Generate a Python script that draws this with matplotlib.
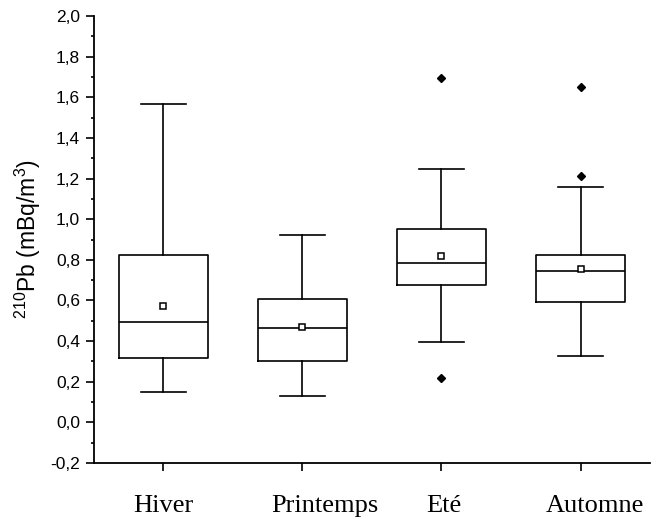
import matplotlib
matplotlib.use("Agg")
import matplotlib.pyplot as plt
import matplotlib.transforms as mtransforms
from matplotlib.ticker import MultipleLocator, FuncFormatter

plt.rcParams['mathtext.fontset'] = 'custom'
plt.rcParams['mathtext.rm'] = 'Liberation Sans'
plt.rcParams['mathtext.it'] = 'Liberation Sans:italic'

# seasons
seasons = ["Hiver", "Printemps", "Eté", "Automne"]

# box statistics (mBq/m3)
whisk_low = [0.148, 0.129, 0.393, 0.326]
q1 = [0.316, 0.304, 0.675, 0.590]
medians = [0.492, 0.464, 0.785, 0.746]
means = [0.575, 0.467, 0.818, 0.756]
q3 = [0.823, 0.608, 0.950, 0.823]
whisk_high = [1.567, 0.922, 1.245, 1.157]
outliers = [[], [], [0.216, 1.693], [1.212, 1.652]]

# label nudges in pixels (labels in the source are not quite centred)
label_shift = [0, 22, 2, 14]

stats = []
for i, name in enumerate(seasons):
    stats.append(dict(label=name, whislo=whisk_low[i], q1=q1[i], med=medians[i],
                      mean=means[i], q3=q3[i], whishi=whisk_high[i],
                      fliers=outliers[i]))

fig = plt.figure(figsize=(6.52, 5.19), dpi=100)
ax = fig.add_axes([0.144, 0.108, 0.853, 0.861])

lw = 1.2
ax.bxp(stats, positions=range(1, len(seasons) + 1), widths=0.64, capwidths=0.32,
       showmeans=True, showfliers=True,
       boxprops=dict(color='black', linewidth=lw),
       whiskerprops=dict(color='black', linewidth=lw),
       capprops=dict(color='black', linewidth=lw),
       medianprops=dict(color='black', linewidth=lw),
       meanprops=dict(marker='s', markersize=4, markerfacecolor='white',
                      markeredgecolor='black', markeredgewidth=1.1),
       flierprops=dict(marker='D', markersize=4.5, markerfacecolor='black',
                       markeredgecolor='black'))

ax.set_xlim(0.5, 4.5)
ax.set_ylim(-0.2, 2.0)

ax.spines['top'].set_visible(False)
ax.spines['right'].set_visible(False)
ax.spines['left'].set_linewidth(1.3)
ax.spines['bottom'].set_linewidth(1.3)

ax.yaxis.set_major_locator(MultipleLocator(0.2))
ax.yaxis.set_minor_locator(MultipleLocator(0.1))
ax.yaxis.set_major_formatter(FuncFormatter(lambda v, p: ("%.1f" % v).replace('.', ',')))
ax.tick_params(axis='y', which='major', direction='out', length=6, width=1.2,
               labelsize=12.5, pad=4)
ax.tick_params(axis='y', which='minor', direction='out', length=2, width=1.2)
ax.tick_params(axis='x', which='major', direction='out', length=6, width=1.2,
               labelsize=19, pad=17)
for lab in ax.get_yticklabels():
    lab.set_fontfamily('Liberation Sans')

ax.set_xticks(range(1, len(seasons) + 1))
ax.set_xticklabels(seasons, fontfamily='Liberation Serif')
for lab, dx in zip(ax.get_xticklabels(), label_shift):
    lab.set_transform(lab.get_transform() +
                      mtransforms.ScaledTranslation(dx / 100, 0, fig.dpi_scale_trans))

ax.set_ylabel(r'$^{210}$Pb (mBq/m$^3$)', fontsize=16.5, fontfamily='Liberation Sans',
              labelpad=5)

fig.savefig("out.png", dpi=100)
